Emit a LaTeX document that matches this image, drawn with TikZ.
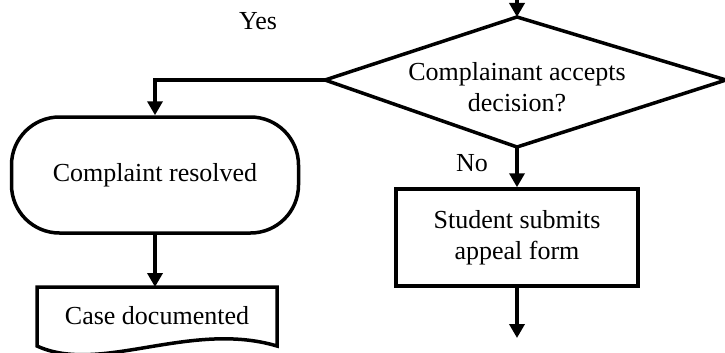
\documentclass[tikz,border=0pt]{standalone}
\usepackage{fontspec}
\setmainfont{Liberation Serif}
\usetikzlibrary{arrows.meta}
\begin{document}
\begin{tikzpicture}[x=1pt,y=-1pt,
  every node/.style={font=\fontsize{26}{31}\selectfont},
  shapeline/.style={line width=3.5pt, line join=miter},
  arr/.style={line width=3.5pt, -{Triangle[width=15pt,length=14pt]}},
  procbox/.style={draw, shapeline, rectangle, minimum width=242pt, minimum height=97pt, align=center, inner sep=0pt},
  termbox/.style={draw, shapeline, rectangle, rounded corners=48pt, minimum width=287pt, minimum height=116pt, inner sep=0pt},
  lbl/.style={inner sep=0pt}]
\useasboundingbox (0,0) rectangle (725,353);
% decision diamond
\coordinate (dt) at (517,17);
\coordinate (dl) at (325,80);
\coordinate (dr) at (726,80);
\coordinate (db) at (517,147);
\draw[shapeline] (dt) -- (dr) -- (db) -- (dl) -- cycle;
\node[align=center, inner sep=0pt] (dec) at (517,87) {Complainant accepts\\decision?};
% incoming arrow
\coordinate (intop) at (517,-6);
\draw[arr] (intop) -- (dt);
% terminal
\node[termbox] (term) at (155,175) {Complaint resolved};
% document
\coordinate (d1) at (37,287);
\coordinate (d2) at (277,287);
\coordinate (d3) at (277,346);
\coordinate (d4) at (37,346);
\draw[shapeline] (d4) -- (d1) -- (d2) -- (d3) .. controls (190,320) and (100,375) .. (d4) -- cycle;
\node[inner sep=0pt] (doc) at (157,316) {Case documented};
\coordinate (doctop) at (157,287);
% process
\node[procbox] (proc) at (517,237.5) {Student submits\\appeal form};
\coordinate (outend) at (517,338);
% connectors
\draw[arr] (dl) -| (term.north);
\draw[arr] (term.south) -- (term.south |- doctop);
\draw[arr] (db) -- (proc.north);
\draw[arr] (proc.south) -- (outend);
% labels
\node[lbl] (yes) at (258,21) {Yes};
\node[lbl] (no) at (472,163) {No};
\end{tikzpicture}
\end{document}
